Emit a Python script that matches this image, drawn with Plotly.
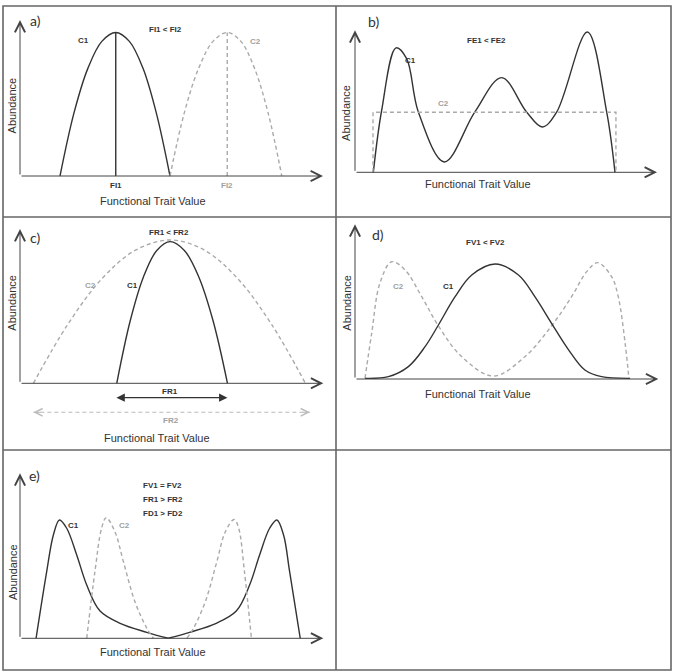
import plotly.graph_objects as go

W, H = 675, 672

# ---------------- data (trait value 0-100 along x arrow, abundance 0-100 up to y arrow) -------------
# a) functional identity
a_c1_x = [13.2, 17.8, 22.4, 27.0, 31.6, 36.1, 40.6, 45.0, 49.5]
a_c1_y = [0, 40.3, 69.0, 86.3, 92.0, 86.3, 69.0, 40.3, 0]
a_c2_x = [49.5, 54.2, 58.95, 63.7, 68.4, 72.9, 77.4, 81.9, 86.4]
a_c2_y = [0, 40.3, 69.0, 86.3, 92.0, 86.3, 69.0, 40.3, 0]
a_fi_x = [31.6, 68.4]
a_fi_labels = ["FI1", "FI2"]

# b) functional evenness
b_c1_x = [6.07, 8.83, 13.58, 17.1, 20.97, 29.58, 39.7, 48.57, 56.8, 62.03, 66.8, 76.93, 83.33, 86.09]
b_c1_y = [0, 43.7, 87.6, 80.0, 42.5, 7.3, 42.5, 66.7, 42.5, 31.9, 42.5, 98.8, 42.5, 0]
b_c2_x = [5.96, 5.96, 86.4, 86.4]
b_c2_y = [0, 42.3, 42.3, 0]

# c) functional richness
c_c1_x = [31.9, 36.3, 40.7, 45.1, 49.5, 54.2, 58.95, 63.7, 68.4]
c_c1_y = [0, 40.2, 68.9, 86.1, 91.8, 86.1, 68.9, 40.2, 0]
c_c2_x = [4.4, 15.7, 27.0, 38.2, 49.5, 60.7, 71.8, 83.0, 94.1]
c_c2_y = [0, 38.0, 67.8, 86.4, 92.9, 86.4, 67.8, 38.0, 0]
c_fr1_range = [31.3, 68.4]
c_fr2_range = [4.4, 95.6]

# d) functional divergence / variance
d_c1_x = [3.3, 11.0, 17.6, 23.1, 27.5, 33.0, 38.5, 46.2, 53.9, 59.3, 64.8, 70.3, 75.8, 81.3, 90.7]
d_c1_y = [0.4, 1.5, 8.0, 20.9, 34.9, 53.2, 67.2, 74.3, 67.2, 53.2, 36.0, 19.2, 5.8, 1.5, 0.4]
d_c2_x = [3.3, 5.5, 8.2, 12.1, 16.5, 22.0, 27.5, 35.2, 45.6, 56.0, 64.8, 71.4, 76.4, 80.0, 84.6, 86.8, 89.2, 90.3]
d_c2_y = [0.5, 29.5, 61.8, 75.8, 70.5, 53.2, 34.3, 14.4, 1.9, 14.4, 34.3, 53.2, 69.4, 75.2, 66.1, 53.2, 20.9, 0.4]

# e) FV equal, FR and FD differ
e_c1_x = [5.3, 8.8, 11.0, 13.0, 15.4, 18.7, 22.0, 26.4, 33.0, 41.8, 48.85,
          55.9, 64.7, 71.3, 75.7, 79.0, 82.3, 84.7, 86.9, 88.9, 92.4]
e_c1_y = [0, 40.4, 62.6, 71.7, 66.7, 50.5, 32.3, 16.5, 9.1, 3.6, 0,
          3.6, 9.1, 16.5, 32.3, 50.5, 66.7, 71.7, 62.6, 40.4, 0]
e_c2_left_x = [22.0, 24.7, 26.9, 28.4, 31.3, 34.1, 37.9, 41.8, 44.0]
e_c2_left_y = [0, 40.4, 66.7, 73.1, 64.6, 46.4, 22.2, 6.1, 0]
e_c2_right_x = [55.0, 57.2, 61.1, 64.9, 67.7, 70.6, 72.1, 74.0, 76.3]
e_c2_right_y = [0, 6.1, 22.2, 46.4, 64.6, 72.0, 66.7, 40.4, 0]

# ---------------- layout / style ----------------
BLACK = "#333333"
GRAY_LINE = "#aaaaaa"
GRAY_TEXT = "#a0a0a0"
FONT = "Liberation Sans, Arial, sans-serif"
LETTER_FONT = "Lato, Open Sans, sans-serif"
DASH = "4px,3px"

# cell (x0, x1, y0, y1) in px, origin (px), scale (px per unit)
panels = {
    "a": dict(n=1, cell=(3, 336, 6, 217), origin=(20, 176), scale=(3.03, 1.56)),
    "b": dict(n=2, cell=(336, 671, 6, 217), origin=(355, 172.3), scale=(3.02, 1.42)),
    "c": dict(n=3, cell=(3, 336, 217, 450), origin=(20, 383.3), scale=(3.033, 1.543)),
    "d": dict(n=4, cell=(336, 671, 217, 450), origin=(355, 379), scale=(3.033, 1.547)),
    "e": dict(n=5, cell=(3, 336, 450, 670), origin=(20, 638.3), scale=(3.033, 1.65)),
}

fig = go.Figure()
layout_axes = {}
for key, p in panels.items():
    n = p["n"]
    cx0, cx1, cy0, cy1 = p["cell"]
    ox, oy = p["origin"]
    sx, sy = p["scale"]
    xs = "" if n == 1 else str(n)
    layout_axes["xaxis" + xs] = dict(
        domain=[cx0 / W, cx1 / W], range=[(cx0 - ox) / sx, (cx1 - ox) / sx],
        visible=False, fixedrange=True, anchor="y" + xs)
    layout_axes["yaxis" + xs] = dict(
        domain=[1 - cy1 / H, 1 - cy0 / H], range=[(oy - cy1) / sy, (oy - cy0) / sy],
        visible=False, fixedrange=True, anchor="x" + xs)
    p["xr"] = "x" + xs
    p["yr"] = "y" + xs


def line(panel, x, y, color=BLACK, width=1.4, dash=None, shape="spline"):
    p = panels[panel]
    fig.add_trace(go.Scatter(
        x=x, y=y, mode="lines", xaxis=p["xr"], yaxis=p["yr"],
        line=dict(color=color, width=width, dash=dash, shape=shape, smoothing=1.0),
        hoverinfo="skip", showlegend=False, cliponaxis=False))


annotations = []


def text(panel, x, y, s, size=8, color=BLACK, bold=True, angle=0, xanchor="center", family=FONT):
    p = panels[panel]
    annotations.append(dict(
        x=x, y=y, xref=p["xr"], yref=p["yr"], text=("<b>%s</b>" % s) if bold else s,
        showarrow=False, font=dict(size=size, color=color, family=family),
        textangle=angle, xanchor=xanchor, yanchor="middle"))


def arrow(panel, x0, y0, x1, y1, color=BLACK, head=5, size=2.0, width=1, both=False):
    p = panels[panel]
    annotations.append(dict(
        x=x1, y=y1, ax=x0, ay=y0, xref=p["xr"], yref=p["yr"], axref=p["xr"], ayref=p["yr"],
        text="", showarrow=True, arrowhead=head, startarrowhead=head, arrowsize=size,
        startarrowsize=size, arrowwidth=width, arrowcolor=color,
        arrowside="end+start" if both else "end", standoff=0, startstandoff=0))


# axes for every panel
for key in panels:
    arrow(key, 0, 0, 0, 100, color="#444444")
    arrow(key, 0, 0, 100, 0, color="#444444")

# ---- a ----
line("a", a_c1_x, a_c1_y)
line("a", a_c2_x, a_c2_y, color=GRAY_LINE, dash=DASH)
line("a", [a_fi_x[0], a_fi_x[0]], [0, max(a_c1_y)], shape="linear")
line("a", [a_fi_x[1], a_fi_x[1]], [0, max(a_c2_y)], color=GRAY_LINE, dash=DASH, shape="linear")
text("a", 2.6, 99.4, "a)", size=14, bold=False, xanchor="left", family=LETTER_FONT)
text("a", 47.9, 93.6, "FI1 &lt; FI2")
text("a", 21.1, 86.7, "C1")
text("a", 77.8, 86.1, "C2", color=GRAY_TEXT)
text("a", a_fi_x[0], -6.4, a_fi_labels[0])
text("a", a_fi_x[1], -6.4, a_fi_labels[1], color=GRAY_TEXT)
text("a", 43.8, -15.8, "Functional Trait Value", size=11, bold=False)
text("a", -2.5, 45.5, "Abundance", size=11, bold=False, angle=-90)

# ---- b ----
line("b", b_c1_x, b_c1_y)
line("b", b_c2_x, b_c2_y, color=GRAY_LINE, dash=DASH, shape="linear")
text("b", 3.6, 106, "b)", size=14, bold=False, xanchor="left", family=LETTER_FONT)
text("b", 43.6, 92.7, "FE1 &lt; FE2")
text("b", 18.5, 78.6, "C1")
text("b", 29.2, 48.1, "C2", color=GRAY_TEXT)
text("b", 40.8, -8.5, "Functional Trait Value", size=11, bold=False)
text("b", -2.8, 41.5, "Abundance", size=11, bold=False, angle=-90)

# ---- c ----
line("c", c_c2_x, c_c2_y, color=GRAY_LINE, dash=DASH)
line("c", c_c1_x, c_c1_y)
arrow("c", c_fr1_range[0], -9.3, c_fr1_range[1], -9.3, color=BLACK, head=2, size=1.4, width=1.2, both=True)
line("c", c_fr2_range, [-18.8, -18.8], color="#bbbbbb", width=1.1, dash=DASH, shape="linear")
arrow("c", c_fr2_range[0] + 3, -18.8, c_fr2_range[0], -18.8, color="#bbbbbb", head=5, size=1.5)
arrow("c", c_fr2_range[1] - 3, -18.8, c_fr2_range[1], -18.8, color="#bbbbbb", head=5, size=1.5)
text("c", 2.6, 94.4, "c)", size=14, bold=False, xanchor="left", family=LETTER_FONT)
text("c", 49.2, 97.9, "FR1 &lt; FR2")
text("c", 23.1, 63.3, "C2", color=GRAY_TEXT)
text("c", 37.0, 63.3, "C1")
text("c", 49.4, -5.0, "FR1")
text("c", 49.7, -24.2, "FR2", color=GRAY_TEXT)
text("c", 45.1, -35.3, "Functional Trait Value", size=11, bold=False)
text("c", -2.5, 52.5, "Abundance", size=11, bold=False, angle=-90)

# ---- d ----
line("d", d_c2_x, d_c2_y, color=GRAY_LINE, dash=DASH)
line("d", d_c1_x, d_c1_y)
text("d", 4.9, 93.1, "d)", size=14, bold=False, xanchor="left", family=LETTER_FONT)
text("d", 42.9, 88.4, "FV1 &lt; FV2")
text("d", 14.3, 59.7, "C2", color=GRAY_TEXT)
text("d", 30.8, 59.7, "C1")
text("d", 40.7, -9.9, "Functional Trait Value", size=11, bold=False)
text("d", -2.5, 49.6, "Abundance", size=11, bold=False, angle=-90)

# ---- e ----
mid = e_c1_y.index(0, 1)
line("e", e_c1_x[:mid + 1], e_c1_y[:mid + 1])
line("e", e_c1_x[mid:], e_c1_y[mid:])
line("e", e_c2_left_x, e_c2_left_y, color=GRAY_LINE, dash=DASH)
line("e", e_c2_right_x, e_c2_right_y, color=GRAY_LINE, dash=DASH)
text("e", 2.4, 98.4, "e)", size=14, bold=False, xanchor="left", family=LETTER_FONT)
text("e", 47.0, 92.5, "FV1 = FV2")
text("e", 47.0, 84.4, "FR1 &gt; FR2")
text("e", 47.0, 75.8, "FD1 &gt; FD2")
text("e", 17.8, 68.1, "C1")
text("e", 34.3, 68.1, "C2", color=GRAY_TEXT)
text("e", 43.7, -8.1, "Functional Trait Value", size=11, bold=False)
text("e", -2.5, 40.4, "Abundance", size=11, bold=False, angle=-90)

# ---- table grid ----
def px(x):
    return x / W


def py(y):
    return 1 - y / H


GRID = "#666666"
shapes = [
    dict(type="rect", xref="paper", yref="paper", x0=px(3), x1=px(671), y0=py(670), y1=py(6),
         line=dict(color=GRID, width=1.6)),
    dict(type="line", xref="paper", yref="paper", x0=px(336), x1=px(336), y0=py(670), y1=py(6),
         line=dict(color=GRID, width=1.6)),
    dict(type="line", xref="paper", yref="paper", x0=px(3), x1=px(671), y0=py(217), y1=py(217),
         line=dict(color=GRID, width=1.6)),
    dict(type="line", xref="paper", yref="paper", x0=px(3), x1=px(671), y0=py(450), y1=py(450),
         line=dict(color=GRID, width=1.6)),
]

fig.update_layout(
    width=W, height=H, margin=dict(l=0, r=0, t=0, b=0),
    paper_bgcolor="white", plot_bgcolor="white",
    annotations=annotations, shapes=shapes, showlegend=False,
    font=dict(family=FONT),
    **layout_axes)

fig.write_html("out.html", config={"displayModeBar": False})
